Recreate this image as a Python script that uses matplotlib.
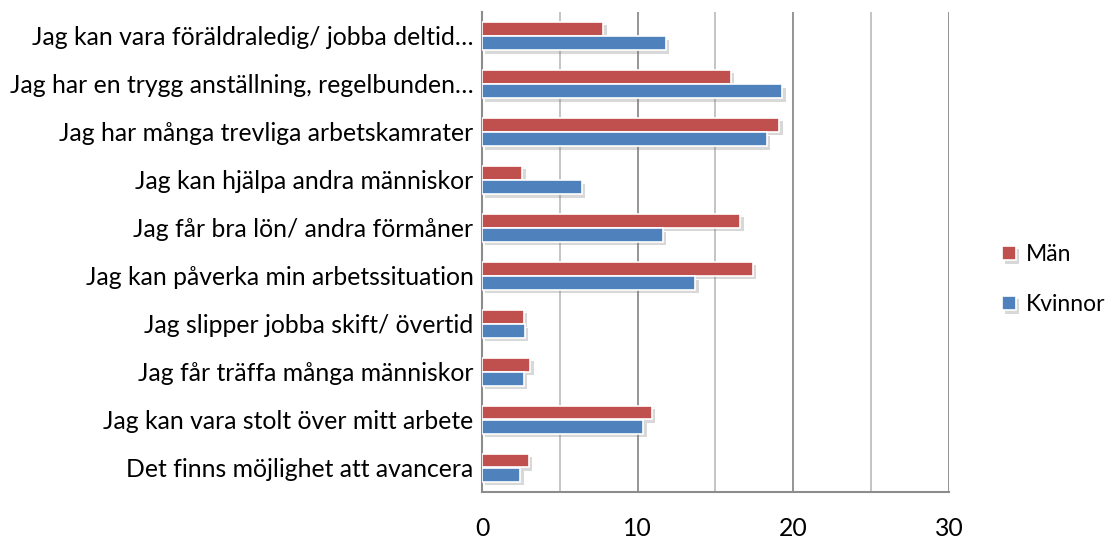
import numpy as np
import matplotlib.pyplot as plt
import matplotlib.patheffects as pe

categories = [
    "Jag kan vara föräldraledig/ jobba deltid…",
    "Jag har en trygg anställning, regelbunden…",
    "Jag har många trevliga arbetskamrater",
    "Jag kan hjälpa andra människor",
    "Jag får bra lön/ andra förmåner",
    "Jag kan påverka min arbetssituation",
    "Jag slipper jobba skift/ övertid",
    "Jag får träffa många människor",
    "Jag kan vara stolt över mitt arbete",
    "Det finns möjlighet att avancera",
]
man = [7.8, 16.0, 19.1, 2.6, 16.6, 17.4, 2.7, 3.1, 10.9, 3.0]
kvinnor = [11.8, 19.3, 18.3, 6.4, 11.6, 13.7, 2.75, 2.7, 10.35, 2.45]
xticks = [0, 10, 20, 30]

plt.rcParams['font.family'] = ['Lato', 'DejaVu Sans']
fs = 17.8

fig = plt.figure(figsize=(11.19, 5.46), dpi=100)
ax = fig.add_axes([0.4307, 0.0995, 0.4173, 0.8785])

y = np.arange(len(categories))
h = 0.29
shadow = [pe.SimplePatchShadow(offset=(2.5, -2.5), shadow_rgbFace='#7f7f7f', alpha=0.3),
          pe.Normal()]

b1 = ax.barh(y - h / 2 - 0.005, man, height=h, color='#C0504D', edgecolor='white',
             linewidth=1.2, label='Män', zorder=3)
b2 = ax.barh(y + h / 2 + 0.005, kvinnor, height=h, color='#4F81BD', edgecolor='white',
             linewidth=1.2, label='Kvinnor', zorder=3)
for bar in list(b1) + list(b2):
    bar.set_path_effects(shadow)

ax.set_ylim(len(categories) - 0.5, -0.5)
ax.set_xlim(0, 30)

# gridlines every 5, darker on the labelled tens
for v in range(5, 31, 5):
    c = '#8c8c8c' if v % 10 == 0 else '#bfbfbf'
    ax.axvline(v, color=c, linewidth=1.3, zorder=1)

ax.set_xticks(xticks)
ax.set_yticks(y)
ax.set_yticklabels(categories, fontsize=fs)
ax.tick_params(axis='x', length=0, pad=18, labelsize=fs)
ax.tick_params(axis='y', length=0, pad=6)

for side in ['top', 'right']:
    ax.spines[side].set_visible(False)
for side in ['left', 'bottom']:
    ax.spines[side].set_color('#8c8c8c')
    ax.spines[side].set_linewidth(1.5)

leg = fig.legend(handles=[b1, b2], loc='center left', bbox_to_anchor=(0.877, 0.488),
                 frameon=False, fontsize=16.5, handlelength=0.6, handleheight=0.6,
                 handletextpad=0.45, labelspacing=1.25)

fig.savefig('out.png', dpi=100)
